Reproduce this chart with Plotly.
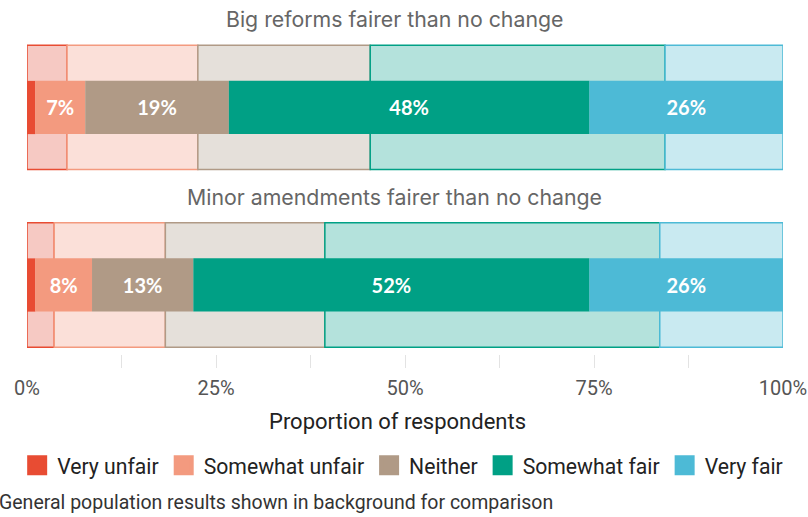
import plotly.graph_objects as go
import numpy as np

# Response categories and colours
categories = ["Very unfair", "Somewhat unfair", "Neither", "Somewhat fair", "Very fair"]
strong_colors = ["#e84c33", "#f39a7f", "#b09a86", "#00a085", "#4dbad6"]
pale_colors = ["#f6c9c3", "#fbe0d9", "#e5e0da", "#b4e2dc", "#c9eaf1"]

# Questions (one row each)
questions = ["Big reforms fairer than no change", "Minor amendments fairer than no change"]

# Survey respondents (%), per question, per category
sample_big = [1.1, 6.6, 19.0, 47.7, 25.6]
sample_minor = [1.1, 7.5, 13.4, 52.4, 25.6]

# General population (%), shown in background
general_big = [5.3, 17.3, 22.8, 39.0, 15.6]
general_minor = [3.6, 14.7, 21.1, 44.3, 16.3]

tick_values = [0, 25, 50, 75, 100]
tick_labels = ["0%", "25%", "50%", "75%", "100%"]

sample = np.array([sample_big, sample_minor])
general = np.array([general_big, general_minor])
rows = [0, 1]

sample_base = np.cumsum(sample, axis=1) - sample
general_base = np.cumsum(general, axis=1) - general

fig = go.Figure()

# Background bars: general population
for i, cat in enumerate(categories):
    fig.add_trace(go.Bar(
        orientation="h", y=rows, x=general[:, i], base=general_base[:, i],
        width=0.70, marker=dict(color=pale_colors[i], line=dict(color=strong_colors[i], width=1.5)),
        showlegend=False, hoverinfo="skip", name=cat,
    ))

# Foreground bars: respondents
for i, cat in enumerate(categories):
    labels = ["" if v < 3 else f"{round(v)}%" for v in sample[:, i]]
    fig.add_trace(go.Bar(
        orientation="h", y=rows, x=sample[:, i], base=sample_base[:, i],
        width=0.30, marker=dict(color=strong_colors[i], line=dict(width=0)),
        text=labels, textposition="inside", insidetextanchor="middle",
        textfont=dict(family="Lato", size=20, color="white", weight="bold"),
        constraintext="none", showlegend=False, name=cat,
    ))

# Legend entries
for i, cat in enumerate(categories):
    fig.add_trace(go.Scatter(
        x=[None], y=[None], mode="markers", name=cat,
        marker=dict(symbol="square", size=16, color=strong_colors[i],
                    line=dict(color=strong_colors[i], width=4)),
    ))

title_font = dict(family="Inter", size=21.3, color="#666666")
annotations = [
    dict(text=questions[0], x=0.486, y=0.9484, xref="paper", yref="paper",
         xanchor="center", yanchor="middle", showarrow=False, font=title_font),
    dict(text=questions[1], x=0.486, y=0.4647, xref="paper", yref="paper",
         xanchor="center", yanchor="middle", showarrow=False, font=title_font),
    dict(text="Proportion of respondents", x=0.490, y=-0.1467, xref="paper", yref="paper",
         xanchor="center", yanchor="middle", showarrow=False,
         font=dict(family="Roboto", size=22, color="#222222")),
    dict(text="General population results shown in background for comparison",
         x=-0.040, y=-0.3668, xref="paper", yref="paper", xanchor="left", yanchor="middle",
         showarrow=False, font=dict(family="Roboto", size=19.5, color="#333333")),
]

fig.update_layout(
    width=808, height=517,
    margin=dict(l=27, r=24.5, t=0, b=149),
    paper_bgcolor="white", plot_bgcolor="white",
    barmode="overlay",
    annotations=annotations,
    legend=dict(orientation="h", x=-0.013, y=-0.265, xanchor="left", yanchor="middle",
                font=dict(family="Roboto", size=21.2, color="#222222"),
                itemclick=False, itemdoubleclick=False, tracegroupgap=0),
    xaxis=dict(range=[0, 100], tickvals=tick_values, ticktext=tick_labels,
               ticks="inside", ticklen=13, tickcolor="#e3e3e3", tickwidth=1,
               minor=dict(dtick=12.5, ticks="inside", ticklen=13, tickcolor="#e3e3e3", tickwidth=1),
               showgrid=False, zeroline=False, showline=False,
               tickfont=dict(family="Roboto", size=20, color="#555555"),
               ticklabelstandoff=6),
    yaxis=dict(range=[1.4676, -0.6056], visible=False, showgrid=False, zeroline=False),
    showlegend=True,
)

fig.write_html("out.html")
